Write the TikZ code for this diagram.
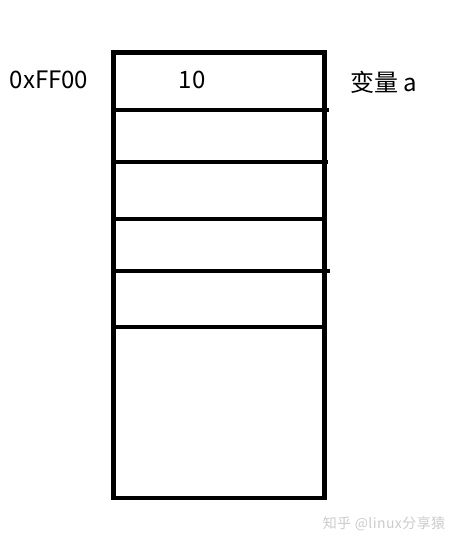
\documentclass[tikz,border=0pt]{standalone}
\usepackage{fontspec}
\setmainfont{Noto Sans CJK SC}
\newfontfamily\wmfont[LetterSpace=3]{Noto Sans CJK SC}
\begin{document}
\begin{tikzpicture}[x=1pt,y=-1pt,
  cellline/.style={line width=4.7pt},
  lbl/.style={inner sep=0pt,font=\fontsize{24}{26}\selectfont},
  wm/.style={inner sep=0pt,text=black!20,font=\wmfont\fontsize{14}{16}\selectfont}]
\useasboundingbox[fill=white] (0,0) rectangle (451,544);
\coordinate (tl) at (113.3,52.5);
\coordinate (br) at (324.5,498);
\draw[cellline] (tl) rectangle (br);
\foreach \y/\e in {110/329,162/328,219/326,271/330,327/326}{
  \draw[cellline] (113.3,\y) -- (\e,\y);
}
\node[lbl] (addr) at (49,80) {0xFF00};
\node[lbl] (val) at (192,80) {10};
\node[lbl] (var) at (384,82) {变量 a};
\node[wm] (mark) at (384,524) {知乎 @linux分享猿};
\end{tikzpicture}
\end{document}
